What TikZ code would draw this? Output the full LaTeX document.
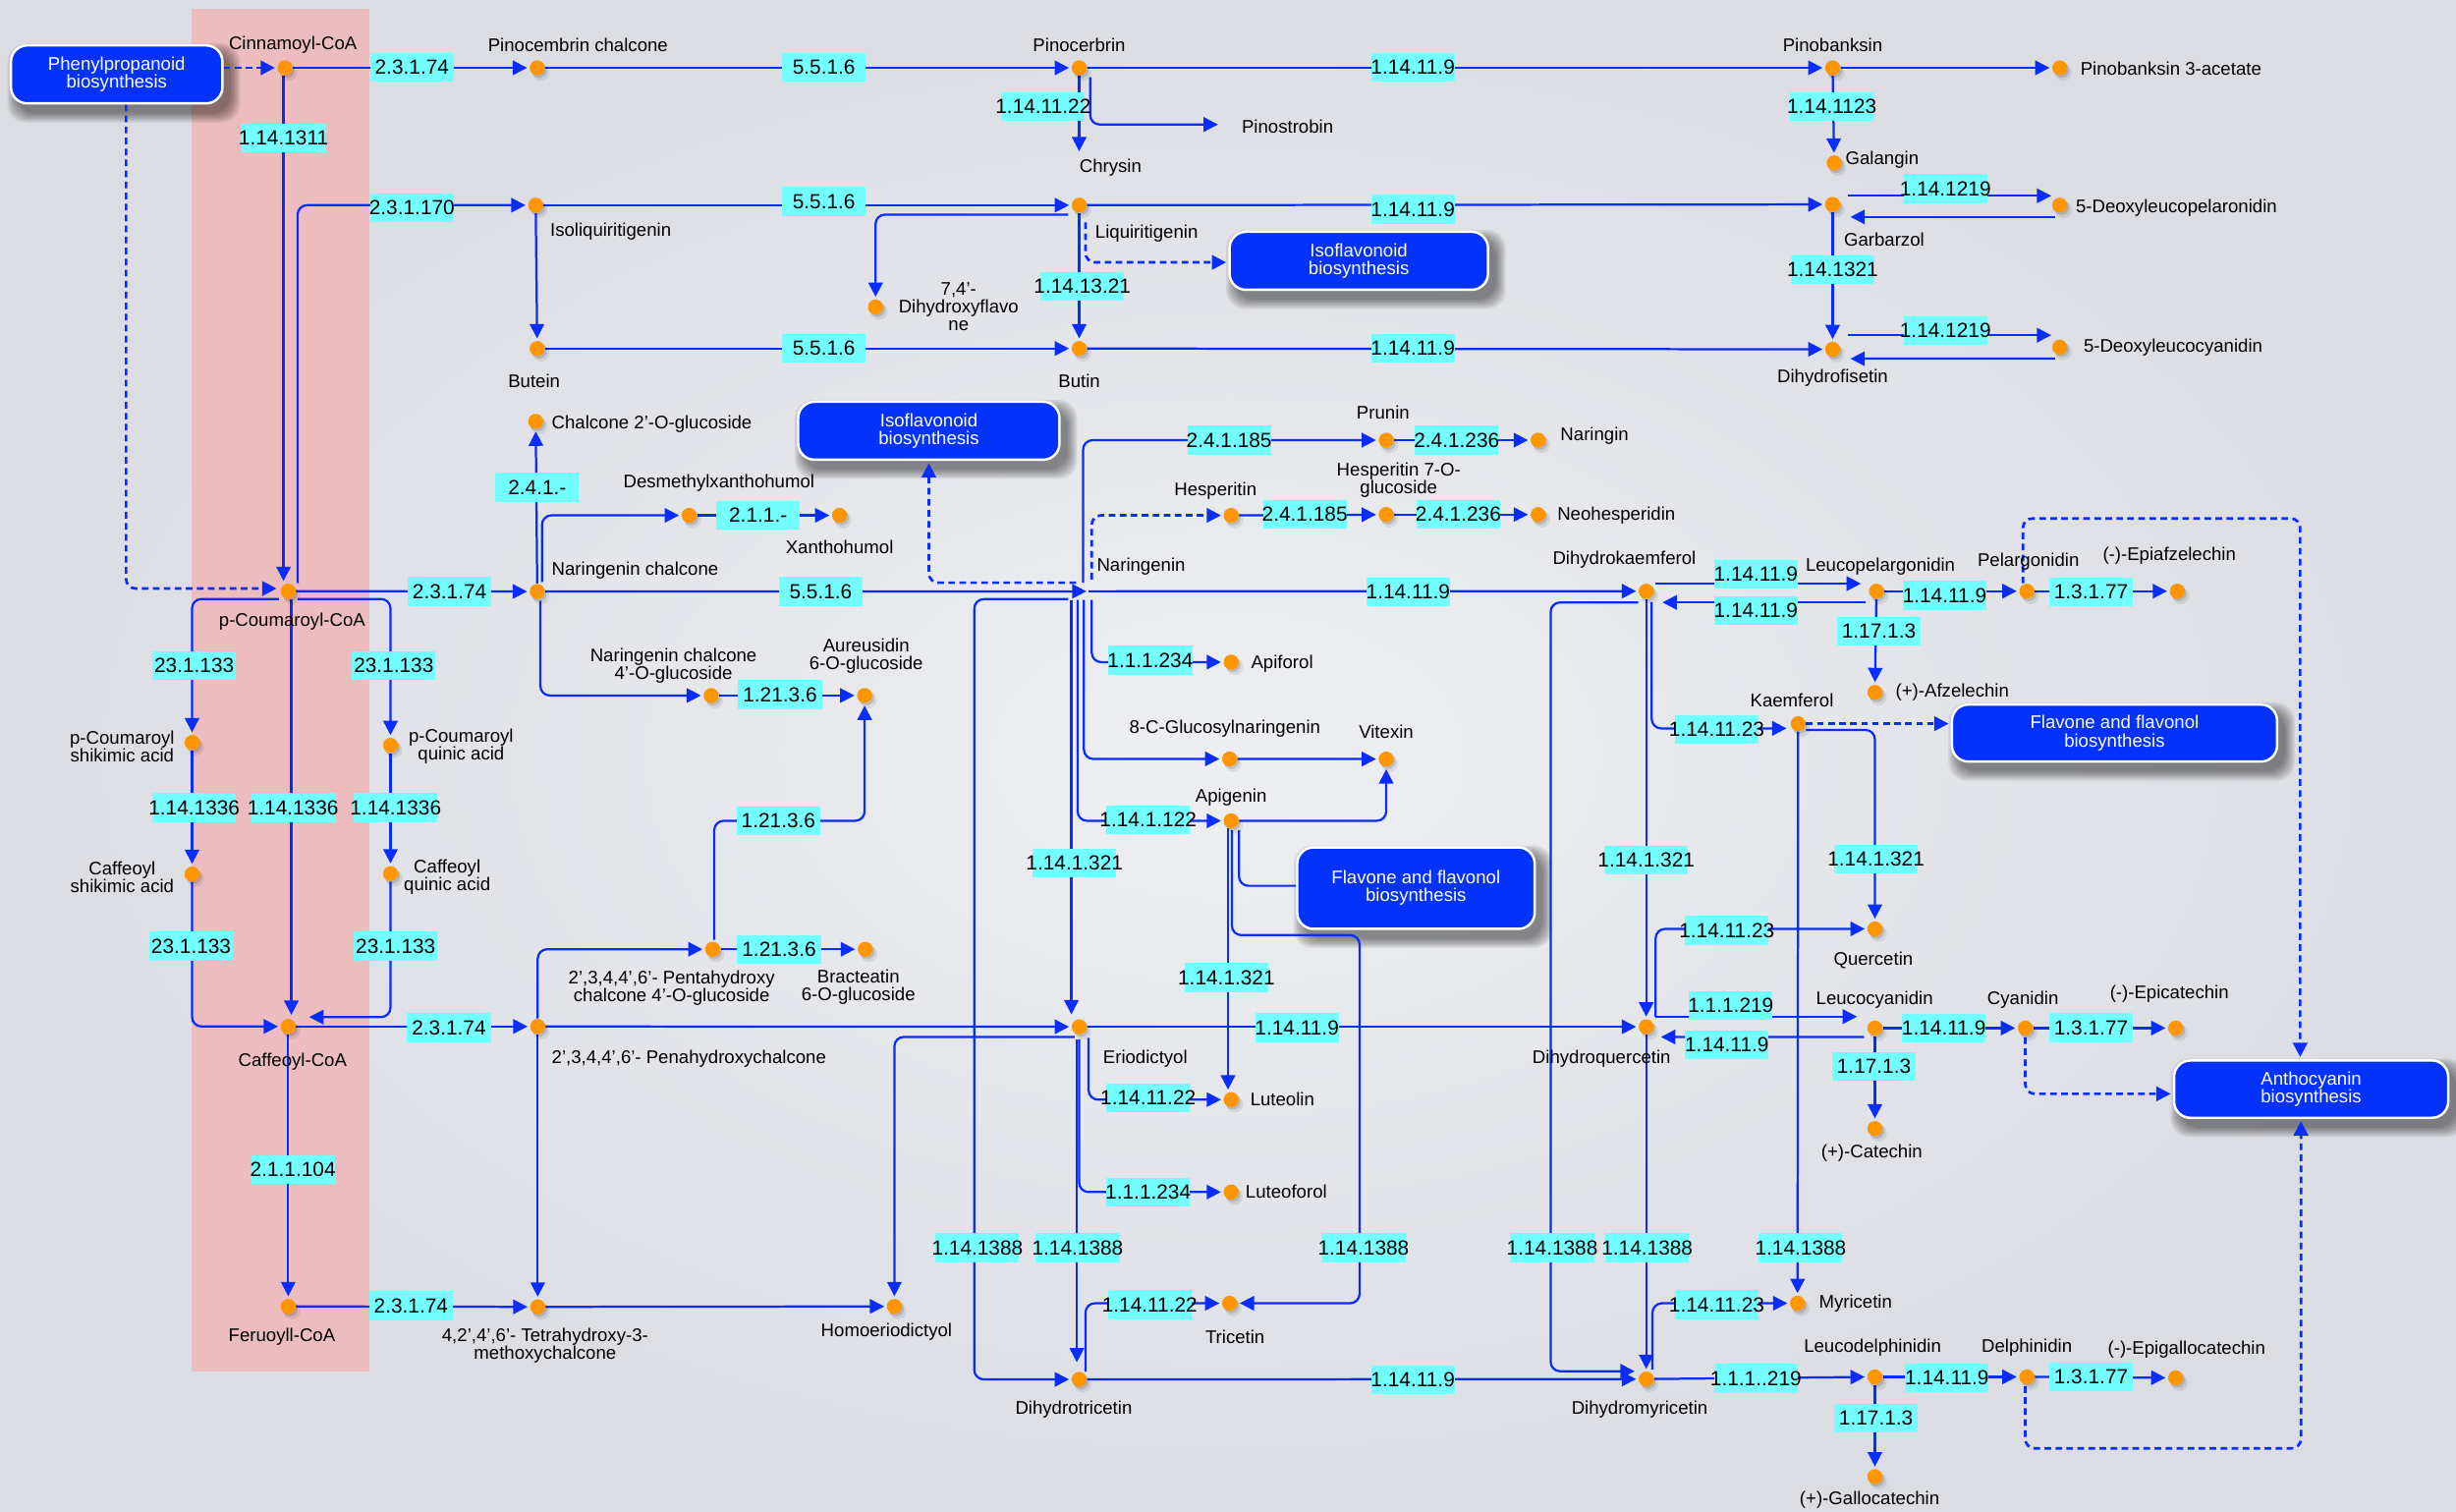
\documentclass[tikz,border=0pt]{standalone}
\usepackage{fontspec}
\setmainfont{Liberation Sans}
\usetikzlibrary{arrows.meta,calc,shadows}

\definecolor{bgin}{RGB}{238,239,242}
\definecolor{bgout}{RGB}{219,221,227}
\definecolor{pinkband}{RGB}{236,188,190}
\definecolor{wire}{RGB}{10,45,255}
\definecolor{dotc}{RGB}{255,150,0}
\definecolor{ecc}{RGB}{115,255,255}
\definecolor{mapblue}{RGB}{5,50,250}

\newcommand\lblfont{\fontsize{8.3}{8.1}\selectfont}
\newcommand\ecfont{\fontsize{9.3}{10}\selectfont}
% enzyme label: fixed-size cyan box, number centred (may overflow)
\newcommand\ecnode[4]{\node[ec] (#1) at (#2,#3) {\makebox[0pt]{#4}};}

\pgfdeclarelayer{back}
\pgfdeclarelayer{wires}
\pgfsetlayers{back,wires,main}

\tikzset{
  met/.style={circle, fill=dotc, minimum size=2.4mm, inner sep=0pt,
    drop shadow={shadow xshift=0.3mm, shadow yshift=-0.4mm, fill=black, opacity=0.13},
    drop shadow={shadow xshift=0.5mm, shadow yshift=-0.65mm, shadow scale=1.12, fill=black, opacity=0.08}},
  ec/.style={fill=ecc, minimum width=13.35mm, minimum height=4.6mm, inner sep=0pt, font=\ecfont},
  lbl/.style={inner sep=0pt, font=\lblfont, align=center},
  pathway/.style={fill=mapblue, draw=white, line width=1.1pt, rounded corners=2.6mm,
    text=white, font=\lblfont, align=center, inner sep=0pt},
  ar/.style={draw=wire, line width=1pt, -{Triangle[length=6.5pt,width=6.5pt]}, shorten >=1pt},
  ln/.style={draw=wire, line width=1pt},
  dar/.style={ar, line width=1.2pt, dash pattern=on 3pt off 2pt},
  rc/.style={rounded corners=1.5mm}
}

\begin{document}
\begin{tikzpicture}[x=0.25mm, y=-0.25mm]
\useasboundingbox (0,0) rectangle (1568,965);

\begin{pgfonlayer}{back}
  \shade[inner color=bgin, outer color=bgout] (0,0) rectangle (1568,965);
  \fill[pinkband] (122,5.6) rectangle (236,875.6);
\end{pgfonlayer}

% ---------- linked pathway maps ----------
\node[pathway, minimum width=33.75mm, minimum height=9.25mm] (pp)    at (74.5,47.5)  {Phenylpropanoid\\biosynthesis};
\node[pathway, minimum width=41.25mm, minimum height=9.25mm] (iso1)  at (867.5,166.5) {Isoflavonoid\\biosynthesis};
\node[pathway, minimum width=41.7mm,  minimum height=9.25mm] (iso2)  at (593,275)     {Isoflavonoid\\biosynthesis};
\node[pathway, minimum width=51.9mm,  minimum height=9.1mm]  (fl1)   at (1350,468)    {Flavone and flavonol\\biosynthesis};
\node[pathway, minimum width=37.9mm,  minimum height=13mm]   (fl2)   at (904,567)     {Flavone and flavonol\\biosynthesis};
\node[pathway, minimum width=43.75mm, minimum height=9.15mm] (antho) at (1475.5,695.3) {Anthocyanin\\biosynthesis};

% soft shadows under the map boxes
\begin{pgfonlayer}{back}
  \foreach \n in {pp,iso1,iso2,fl1,fl2,antho}{
    \foreach \k in {0,1,...,6}{
      \fill[black, opacity=0.075, rounded corners=3mm]
        ($(\n.south west)+({4.5-\k},{5.5+\k})$) rectangle ($(\n.north east)+({4.5+\k},{5.5-\k})$);
    }
  }
\end{pgfonlayer}

% ---------- compounds ----------
\node[met] (cinn)    at (182,43.3) {};
\node[met] (pcc)     at (343,43.3) {};
\node[met] (pino)    at (689,43.3) {};
\node[met] (pinob)   at (1170,43.3) {};
\node[met] (pinoac)  at (1315,43.3) {};
\node[met] (galang)  at (1171,104) {};
\node[met] (isoliq)  at (342,131) {};
\node[met] (liq)     at (689,131) {};
\node[met] (garb)    at (1170,130.5) {};
\node[met] (deoxyp)  at (1315,131) {};
\node[met] (dhf)     at (559,196) {};
\node[met] (butein)  at (343,222.5) {};
\node[met] (butin)   at (689,222.5) {};
\node[met] (dhfis)   at (1170,223) {};
\node[met] (deoxyc)  at (1315,221.6) {};
\node[met] (chalg)   at (342,269) {};
\node[met] (prunin)  at (885,281) {};
\node[met] (naringin) at (982,281) {};
\node[met] (desm)    at (440,329) {};
\node[met] (xanth)   at (536,329) {};
\node[met] (hesp)    at (786,329) {};
\node[met] (hesp7)   at (885,328.5) {};
\node[met] (neohesp) at (982,328.5) {};
\node[met] (pcoa)    at (184,377.4) {};
\node[met] (narch)   at (343,377.6) {};
\node[met] (dhk)     at (1051,377.4) {};
\node[met] (leucop)  at (1198,377.4) {};
\node[met] (pelarg)  at (1294,377.4) {};
\node[met] (epiafz)  at (1390,377.4) {};
\node[met] (apif)    at (786,422.7) {};
\node[met] (afz)     at (1197,442) {};
\node[met] (narg)    at (454,444) {};
\node[met] (aure)    at (552,444) {};
\node[met] (kaemp)   at (1148,462) {};
\node[met] (pcshik)  at (122.6,474) {};
\node[met] (pcquin)  at (249.3,475.8) {};
\node[met] (cglc)    at (785,484.5) {};
\node[met] (vitex)   at (885,484.6) {};
\node[met] (apig)    at (786,524) {};
\node[met] (cshik)   at (122.6,558) {};
\node[met] (cquin)   at (249.3,557.7) {};
\node[met] (querc)   at (1197,593) {};
\node[met] (penta)   at (455,606) {};
\node[met] (bract)   at (552.4,606) {};
\node[met] (caff)    at (184,655.3) {};
\node[met] (penah)   at (343.3,655.3) {};
\node[met] (erio)    at (689,655.5) {};
\node[met] (dhq)     at (1051,655.5) {};
\node[met] (leucoc)  at (1197,656.3) {};
\node[met] (cyan)    at (1293,656.3) {};
\node[met] (epicat)  at (1389,656.3) {};
\node[met] (lute)    at (786,702) {};
\node[met] (cat)     at (1197,720.5) {};
\node[met] (luteof)  at (786,761) {};
\node[met] (feru)    at (184,834) {};
\node[met] (tetra)   at (343.3,834.3) {};
\node[met] (homo)    at (571,834) {};
\node[met] (tric)    at (785,832) {};
\node[met] (myric)   at (1147.6,832) {};
\node[met] (dht)     at (689,880.6) {};
\node[met] (dhm)     at (1051,880.4) {};
\node[met] (leucod)  at (1197,879) {};
\node[met] (delph)   at (1294,879) {};
\node[met] (epigal)  at (1389,879.6) {};
\node[met] (galcat)  at (1197,942.7) {};

\coordinate (chrys)  at (689,98);
\coordinate (pinost) at (779,79.5);
\coordinate (narpt)  at (695,377.5);

% ---------- compound names ----------
\node[lbl] at (187,28.7) {Cinnamoyl-CoA};
\node[lbl] at (369,28.7) {Pinocembrin chalcone};
\node[lbl] at (689,28.6) {Pinocerbrin};
\node[lbl] at (1170,28.7) {Pinobanksin};
\node[lbl, anchor=west] at (1328,43.9) {Pinobanksin 3-acetate};
\node[lbl] at (822,81) {Pinostrobin};
\node[lbl] at (709,107) {Chrysin};
\node[lbl, anchor=west] at (1178,102) {Galangin};
\node[lbl, anchor=west] at (351,148) {Isoliquiritigenin};
\node[lbl, anchor=west] at (699,149) {Liquiritigenin};
\node[lbl, anchor=west] at (1177,153) {Garbarzol};
\node[lbl, anchor=west] at (1325,132.5) {5-Deoxyleucopelaronidin};
\node[lbl] at (612,196) {7,4’-\\Dihydroxyflavo\\ne};
\node[lbl] at (341,243) {Butein};
\node[lbl] at (689,243) {Butin};
\node[lbl] at (1170,241) {Dihydrofisetin};
\node[lbl, anchor=west] at (1330,222) {5-Deoxyleucocyanidin};
\node[lbl, anchor=west] at (352,271) {Chalcone 2’-O-glucoside};
\node[lbl] at (883,263.5) {Prunin};
\node[lbl, anchor=west] at (996,278) {Naringin};
\node[lbl] at (459,308.5) {Desmethylxanthohumol};
\node[lbl] at (536,349.5) {Xanthohumol};
\node[lbl] at (776,313.6) {Hesperitin};
\node[lbl] at (893,306.5) {Hesperitin 7-O-\\glucoside};
\node[lbl, anchor=west] at (994,329) {Neohesperidin};
\node[lbl, anchor=west] at (352,364) {Naringenin chalcone};
\node[lbl, anchor=west] at (700,362) {Naringenin};
\node[lbl, anchor=west] at (991,357) {Dihydrokaemferol};
\node[lbl] at (1200.5,361.7) {Leucopelargonidin};
\node[lbl] at (1295,358.5) {Pelargonidin};
\node[lbl] at (1385,355) {(-)-Epiafzelechin};
\node[lbl] at (186.5,396.8) {p-Coumaroyl-CoA};
\node[lbl, anchor=west] at (798.5,424) {Apiforol};
\node[lbl, anchor=west] at (1210,442) {(+)-Afzelechin};
\node[lbl] at (430,425) {Naringenin chalcone\\4’-O-glucoside};
\node[lbl] at (553,419) {Aureusidin\\6-O-glucoside};
\node[lbl] at (1144,447) {Kaemferol};
\node[lbl] at (782,465) {8-C-Glucosylnaringenin};
\node[lbl] at (885,467) {Vitexin};
\node[lbl] at (786,509) {Apigenin};
\node[lbl] at (78,476.7) {p-Coumaroyl\\shikimic acid};
\node[lbl] at (294.4,476.7) {p-Coumaroyl\\quinic acid};
\node[lbl] at (78,559.8) {Caffeoyl\\shikimic acid};
\node[lbl] at (285.5,559.8) {Caffeoyl\\quinic acid};
\node[lbl] at (1196,613) {Quercetin};
\node[lbl] at (428.8,631) {2’,3,4,4’,6’- Pentahydroxy\\chalcone 4’-O-glucoside};
\node[lbl] at (548,630.3) {Bracteatin\\6-O-glucoside};
\node[lbl] at (186.8,678) {Caffeoyl-CoA};
\node[lbl, anchor=west] at (352,676) {2’,3,4,4’,6’- Penahydroxychalcone};
\node[lbl, anchor=west] at (704,676) {Eriodictyol};
\node[lbl] at (1022.5,676) {Dihydroquercetin};
\node[lbl] at (1196.8,638) {Leucocyanidin};
\node[lbl] at (1291.5,638) {Cyanidin};
\node[lbl] at (1385,634.5) {(-)-Epicatechin};
\node[lbl] at (1195,736) {(+)-Catechin};
\node[lbl, anchor=west] at (798,702) {Luteolin};
\node[lbl, anchor=west] at (795,761) {Luteoforol};
\node[lbl] at (180,853.3) {Feruoyll-CoA};
\node[lbl] at (348,859) {4,2’,4’,6’- Tetrahydroxy-3-\\methoxychalcone};
\node[lbl] at (566,850) {Homoeriodictyol};
\node[lbl] at (788.5,853.4) {Tricetin};
\node[lbl, anchor=west] at (1161,832) {Myricetin};
\node[lbl] at (685.5,900) {Dihydrotricetin};
\node[lbl] at (1046.8,900) {Dihydromyricetin};
\node[lbl] at (1195.5,860.2) {Leucodelphinidin};
\node[lbl] at (1294,860.5) {Delphinidin};
\node[lbl] at (1396,861.8) {(-)-Epigallocatechin};
\node[lbl] at (1193.6,957.5) {(+)-Gallocatechin};

% ---------- reactions ----------
\begin{pgfonlayer}{wires}
  % entry from phenylpropanoid biosynthesis
  \draw[dar] (pp.east |- cinn) -- (cinn);
  \draw[dar, rc] ($(pp.south)+(6,0)$) |- ($(pcoa)+(-6,-1.7)$);
  % CoA esters
  \draw[ar] ([xshift=-0.25mm]cinn.south) -- ([xshift=-0.25mm]cinn.south |- pcoa.north);
  \draw[ar, rc] ($(pcoa)+(6,-5)$) |- (isoliq);
  \draw[ar, rc] ($(pcoa)+(-6,5)$) -| (pcshik);
  \draw[ar, rc] ($(pcoa)+(6,5)$) -| (pcquin);
  \draw[ar] (pcshik) -- (cshik);
  \draw[ar] (pcquin) -- (cquin);
  \draw[ar] ($(pcoa)+(2,5)$) -- ($(caff)+(2,-6)$);
  \draw[ar, rc] (cshik) |- (caff);
  \draw[ar, rc] (cquin) |- ($(caff)+(12,-6)$);
  \draw[ar] (caff) -- (feru);
  % top rows
  \draw[ar] (cinn) -- (pcc);
  \draw[ar] (pcc) -- (pino);
  \draw[ar] (pino) -- (pinob);
  \draw[ar] (pinob) -- (pinoac);
  \draw[ar] (pino) -- (chrys);
  \draw[ar, rc] ($(pino)+(7,6)$) |- (pinost);
  \draw[ar] (pinob) -- (galang);
  \draw[ar] (isoliq) -- (liq);
  \draw[ar] (liq) -- (garb);
  \draw[ar] (isoliq) -- (butein);
  \draw[ar] (liq) -- (butin);
  \draw[ar, rc] ($(liq)+(-7,6)$) -| (dhf);
  \draw[dar, rc] ($(liq)+(4,11)$) |- ($(iso1.west)+(0,1)$);
  \draw[ar] ($(garb)+(10,-5.5)$) -- ($(deoxyp)+(-4,-6)$);
  \draw[ar] ($(deoxyp)+(-3,7.5)$) -- ($(garb)+(10,8)$);
  \draw[ar] (garb) -- (dhfis);
  \draw[ar] ($(dhfis)+(10,-9)$) -- ($(deoxyc)+(-4,-7.6)$);
  \draw[ar] ($(deoxyc)+(-3,7.4)$) -- ($(dhfis)+(10,6)$);
  \draw[ar] (butein) -- (butin);
  \draw[ar] (butin) -- (dhfis);
  % naringenin chalcone branch
  \draw[ar] (pcoa) -- (narch);
  \draw[ar] (narch) -- (chalg);
  \draw[ar, rc] ($(narch)+(3,-6)$) |- (desm);
  \draw[ar] (desm) -- (xanth);
  \draw[ar, rc] ($(narch)+(2,6)$) |- (narg);
  \draw[ar] (narg) -- (aure);
  \draw[ar] (narch) -- (narpt);
  \draw[ar] (narpt) -- (dhk);
  % naringenin branches
  \draw[ar, rc] ($(narpt)+(-3.5,-5.5)$) |- (prunin);
  \draw[ar] (prunin) -- (naringin);
  \draw[dar, rc] ($(narpt)+(2,-7.5)$) |- (hesp);
  \draw[ar] (hesp) -- (hesp7);
  \draw[ar] (hesp7) -- (neohesp);
  \draw[dar, rc] ($(narpt)+(-8,-5.5)$) -| (iso2.south);
  \draw[ar, rc] ($(narpt)+(2,5.5)$) |- (apif);
  \draw[ar, rc] ($(narpt)+(-3,5.5)$) |- (cglc);
  \draw[ar] (cglc) -- (vitex);
  \draw[ar, rc] ($(narpt)+(-7,5.5)$) |- (apig);
  \draw[ar, rc] (apig) -| (vitex);
  \draw[ar] ($(narpt)+(-11,5.5)$) -- ($(erio)+(-5,-6.5)$);
  \draw[ar, rc] ($(narpt)+(-13,5)$) -| ($(dht)+(-67,0)$) -- (dht);
  % apigenin
  \draw[ar] ($(apig)+(-2,5)$) -- ($(lute)+(-2,-5)$);
  \draw[ar, rc] ($(apig)+(0.5,6)$) |- (868,597) |- (tric);
  \draw[ln, rc] ($(apig)+(5,6)$) |- ($(fl2.west)+(0,-1.5)$);
  % caffeoyl-CoA and feruoyl-CoA chalcones
  \draw[ar] (caff) -- (penah);
  \draw[ar] (penah) -- (erio);
  \draw[ar, rc] (penah) |- (penta);
  \draw[ar] (penta) -- (bract);
  \draw[ar, rc] ($(penta)+(1,-6)$) |- ($(aure)+(0,80)$) -- (aure);
  \draw[ar] (penah) -- (tetra);
  \draw[ar] (feru) -- (tetra);
  \draw[ar] (tetra) -- (homo);
  % eriodictyol
  \draw[ar] (erio) -- (dhq);
  \draw[ar, rc] ($(erio)+(-3,6.5)$) -| (homo);
  \draw[ar, rc] ($(erio)+(6,7)$) |- (lute);
  \draw[ar, rc] ($(erio)+(0,8)$) |- (luteof);
  \draw[ar] ($(erio)+(-1.5,8)$) -- ($(dht)+(-1.5,-9.5)$);
  \draw[ar, rc] ($(dht)+(4,-5)$) |- (tric);
  \draw[ar] (dht) -- (dhm);
  % dihydrokaempferol
  \draw[ar] (dhk) -- (dhq);
  \draw[ar, rc] ($(dhk)+(3.5,7)$) |- ($(kaemp)+(-6,3)$);
  \draw[ar, rc] ($(dhk)+(-5,7.2)$) -| ($(dhm)+(-61,-5)$) -- ($(dhm)+(-6,-5)$);
  \draw[ar] ($(dhk)+(6,-4.8)$) -- ($(leucop)+(-8.5,-4.8)$);
  \draw[ar] ($(leucop)+(-7,7.2)$) -- ($(dhk)+(9,7.2)$);
  \draw[ar] (leucop) -- (pelarg);
  \draw[ar] (pelarg) -- (epiafz);
  \draw[ar] (leucop) -- (afz);
  \draw[dar, rc] ($(pelarg)+(-2.5,-5)$) |- (1468.5,331) -- ($(antho.north)+(-7,0)$);
  % kaempferol
  \draw[dar] (kaemp) -- (fl1.west |- kaemp);
  \draw[ar, rc] ($(kaemp)+(5,4)$) -| (querc);
  \draw[ar] (kaemp) -- (myric);
  % dihydroquercetin
  \draw[ar, rc] ($(dhq)+(6,-6.5)$) |- (querc);
  \draw[ar] ($(dhq)+(6,-6.5)$) -- ($(leucoc)+(-10,-7.3)$);
  \draw[ar] ($(leucoc)+(-7,5.7)$) -- ($(dhq)+(8,6.5)$);
  \draw[ar] (leucoc) -- (cyan);
  \draw[ar] (cyan) -- (epicat);
  \draw[ar] (leucoc) -- (cat);
  \draw[dar, rc] ($(cyan)+(0,6)$) |- ($(antho.west)+(0,3)$);
  \draw[ar] (dhq) -- (dhm);
  % dihydromyricetin
  \draw[ar, rc] ($(dhm)+(4,-6)$) |- (myric);
  \draw[ar] (dhm) -- (leucod);
  \draw[ar] (leucod) -- (delph);
  \draw[ar] (delph) -- (epigal);
  \draw[ar] (leucod) -- (galcat);
  \draw[dar, rc] ($(delph)+(-1,6)$) |- (1469,924.6) -- ($(antho.south)+(-6.5,0)$);
\end{pgfonlayer}

% ---------- enzymes ----------
\ecnode{e01}{263}{43}{2.3.1.74}
\ecnode{e02}{526}{43}{5.5.1.6}
\ecnode{e03}{902}{43}{1.14.11.9}
\ecnode{e04}{181}{88}{1.14.1311}
\ecnode{e05}{666}{68}{1.14.11.22}
\ecnode{e06}{1169.5}{68.2}{1.14.1123}
\ecnode{e07}{263}{132.6}{2.3.1.170}
\ecnode{e08}{526}{128.6}{5.5.1.6}
\ecnode{e09}{902}{133.5}{1.14.11.9}
\ecnode{e10}{1242}{120.5}{1.14.1219}
\ecnode{e11}{1170}{172}{1.14.1321}
\ecnode{e12}{691}{183}{1.14.13.21}
\ecnode{e13}{526}{222.4}{5.5.1.6}
\ecnode{e14}{902}{222.4}{1.14.11.9}
\ecnode{e15}{1242}{211}{1.14.1219}
\ecnode{e16}{784.7}{281}{2.4.1.185}
\ecnode{e17}{930}{281}{2.4.1.236}
\ecnode{e18}{343}{311}{2.4.1.-}
\ecnode{e19}{484}{329}{2.1.1.-}
\ecnode{e20}{833}{328.5}{2.4.1.185}
\ecnode{e21}{931}{328.5}{2.4.1.236}
\ecnode{e22}{287}{377.5}{2.3.1.74}
\ecnode{e23}{524}{377.5}{5.5.1.6}
\ecnode{e24}{899}{378}{1.14.11.9}
\ecnode{e25}{1121}{366.4}{1.14.11.9}
\ecnode{e26}{1121}{390}{1.14.11.9}
\ecnode{e27}{1241.5}{380}{1.14.11.9}
\ecnode{e28}{1335}{378}{1.3.1.77}
\ecnode{e29}{1199.5}{403}{1.17.1.3}
\ecnode{e30}{734.4}{421.5}{1.1.1.234}
\ecnode{e31}{124}{425}{23.1.133}
\ecnode{e32}{251.4}{425}{23.1.133}
\ecnode{e33}{498}{443.5}{1.21.3.6}
\ecnode{e34}{1096}{465.5}{1.14.11.23}
\ecnode{e35}{124}{515.5}{1.14.1336}
\ecnode{e36}{187}{515.5}{1.14.1336}
\ecnode{e37}{252.6}{515.5}{1.14.1336}
\ecnode{e38}{497}{524}{1.21.3.6}
\ecnode{e39}{733}{523.5}{1.14.1.122}
\ecnode{e40}{686}{551}{1.14.1.321}
\ecnode{e41}{1051}{549}{1.14.1.321}
\ecnode{e42}{1197.7}{548.6}{1.14.1.321}
\ecnode{e43}{1102.5}{594}{1.14.11.23}
\ecnode{e44}{122}{604}{23.1.133}
\ecnode{e45}{252.6}{604}{23.1.133}
\ecnode{e46}{497.4}{606}{1.21.3.6}
\ecnode{e47}{783}{624}{1.14.1.321}
\ecnode{e48}{1105}{642}{1.1.1.219}
\ecnode{e49}{286.6}{656}{2.3.1.74}
\ecnode{e50}{828}{656}{1.14.11.9}
\ecnode{e51}{1241}{656.5}{1.14.11.9}
\ecnode{e52}{1335}{656}{1.3.1.77}
\ecnode{e53}{1102.5}{667}{1.14.11.9}
\ecnode{e54}{1196.4}{681}{1.17.1.3}
\ecnode{e55}{733}{701}{1.14.11.22}
\ecnode{e56}{187}{746.5}{2.1.1.104}
\ecnode{e57}{733}{761}{1.1.1.234}
\ecnode{e58}{624}{796.6}{1.14.1388}
\ecnode{e59}{688}{796.6}{1.14.1388}
\ecnode{e60}{870.5}{796.6}{1.14.1388}
\ecnode{e61}{991}{796.6}{1.14.1388}
\ecnode{e62}{1051.6}{796.6}{1.14.1388}
\ecnode{e63}{1149.6}{796.6}{1.14.1388}
\ecnode{e64}{262.4}{833.5}{2.3.1.74}
\ecnode{e65}{734}{833}{1.14.11.22}
\ecnode{e66}{1096}{833}{1.14.11.23}
\ecnode{e67}{1121}{880}{1.1.1..219}
\ecnode{e68}{902}{881}{1.14.11.9}
\ecnode{e69}{1243}{879.6}{1.14.11.9}
\ecnode{e70}{1335}{879}{1.3.1.77}
\ecnode{e71}{1197.7}{905.4}{1.17.1.3}
\end{tikzpicture}
\end{document}
